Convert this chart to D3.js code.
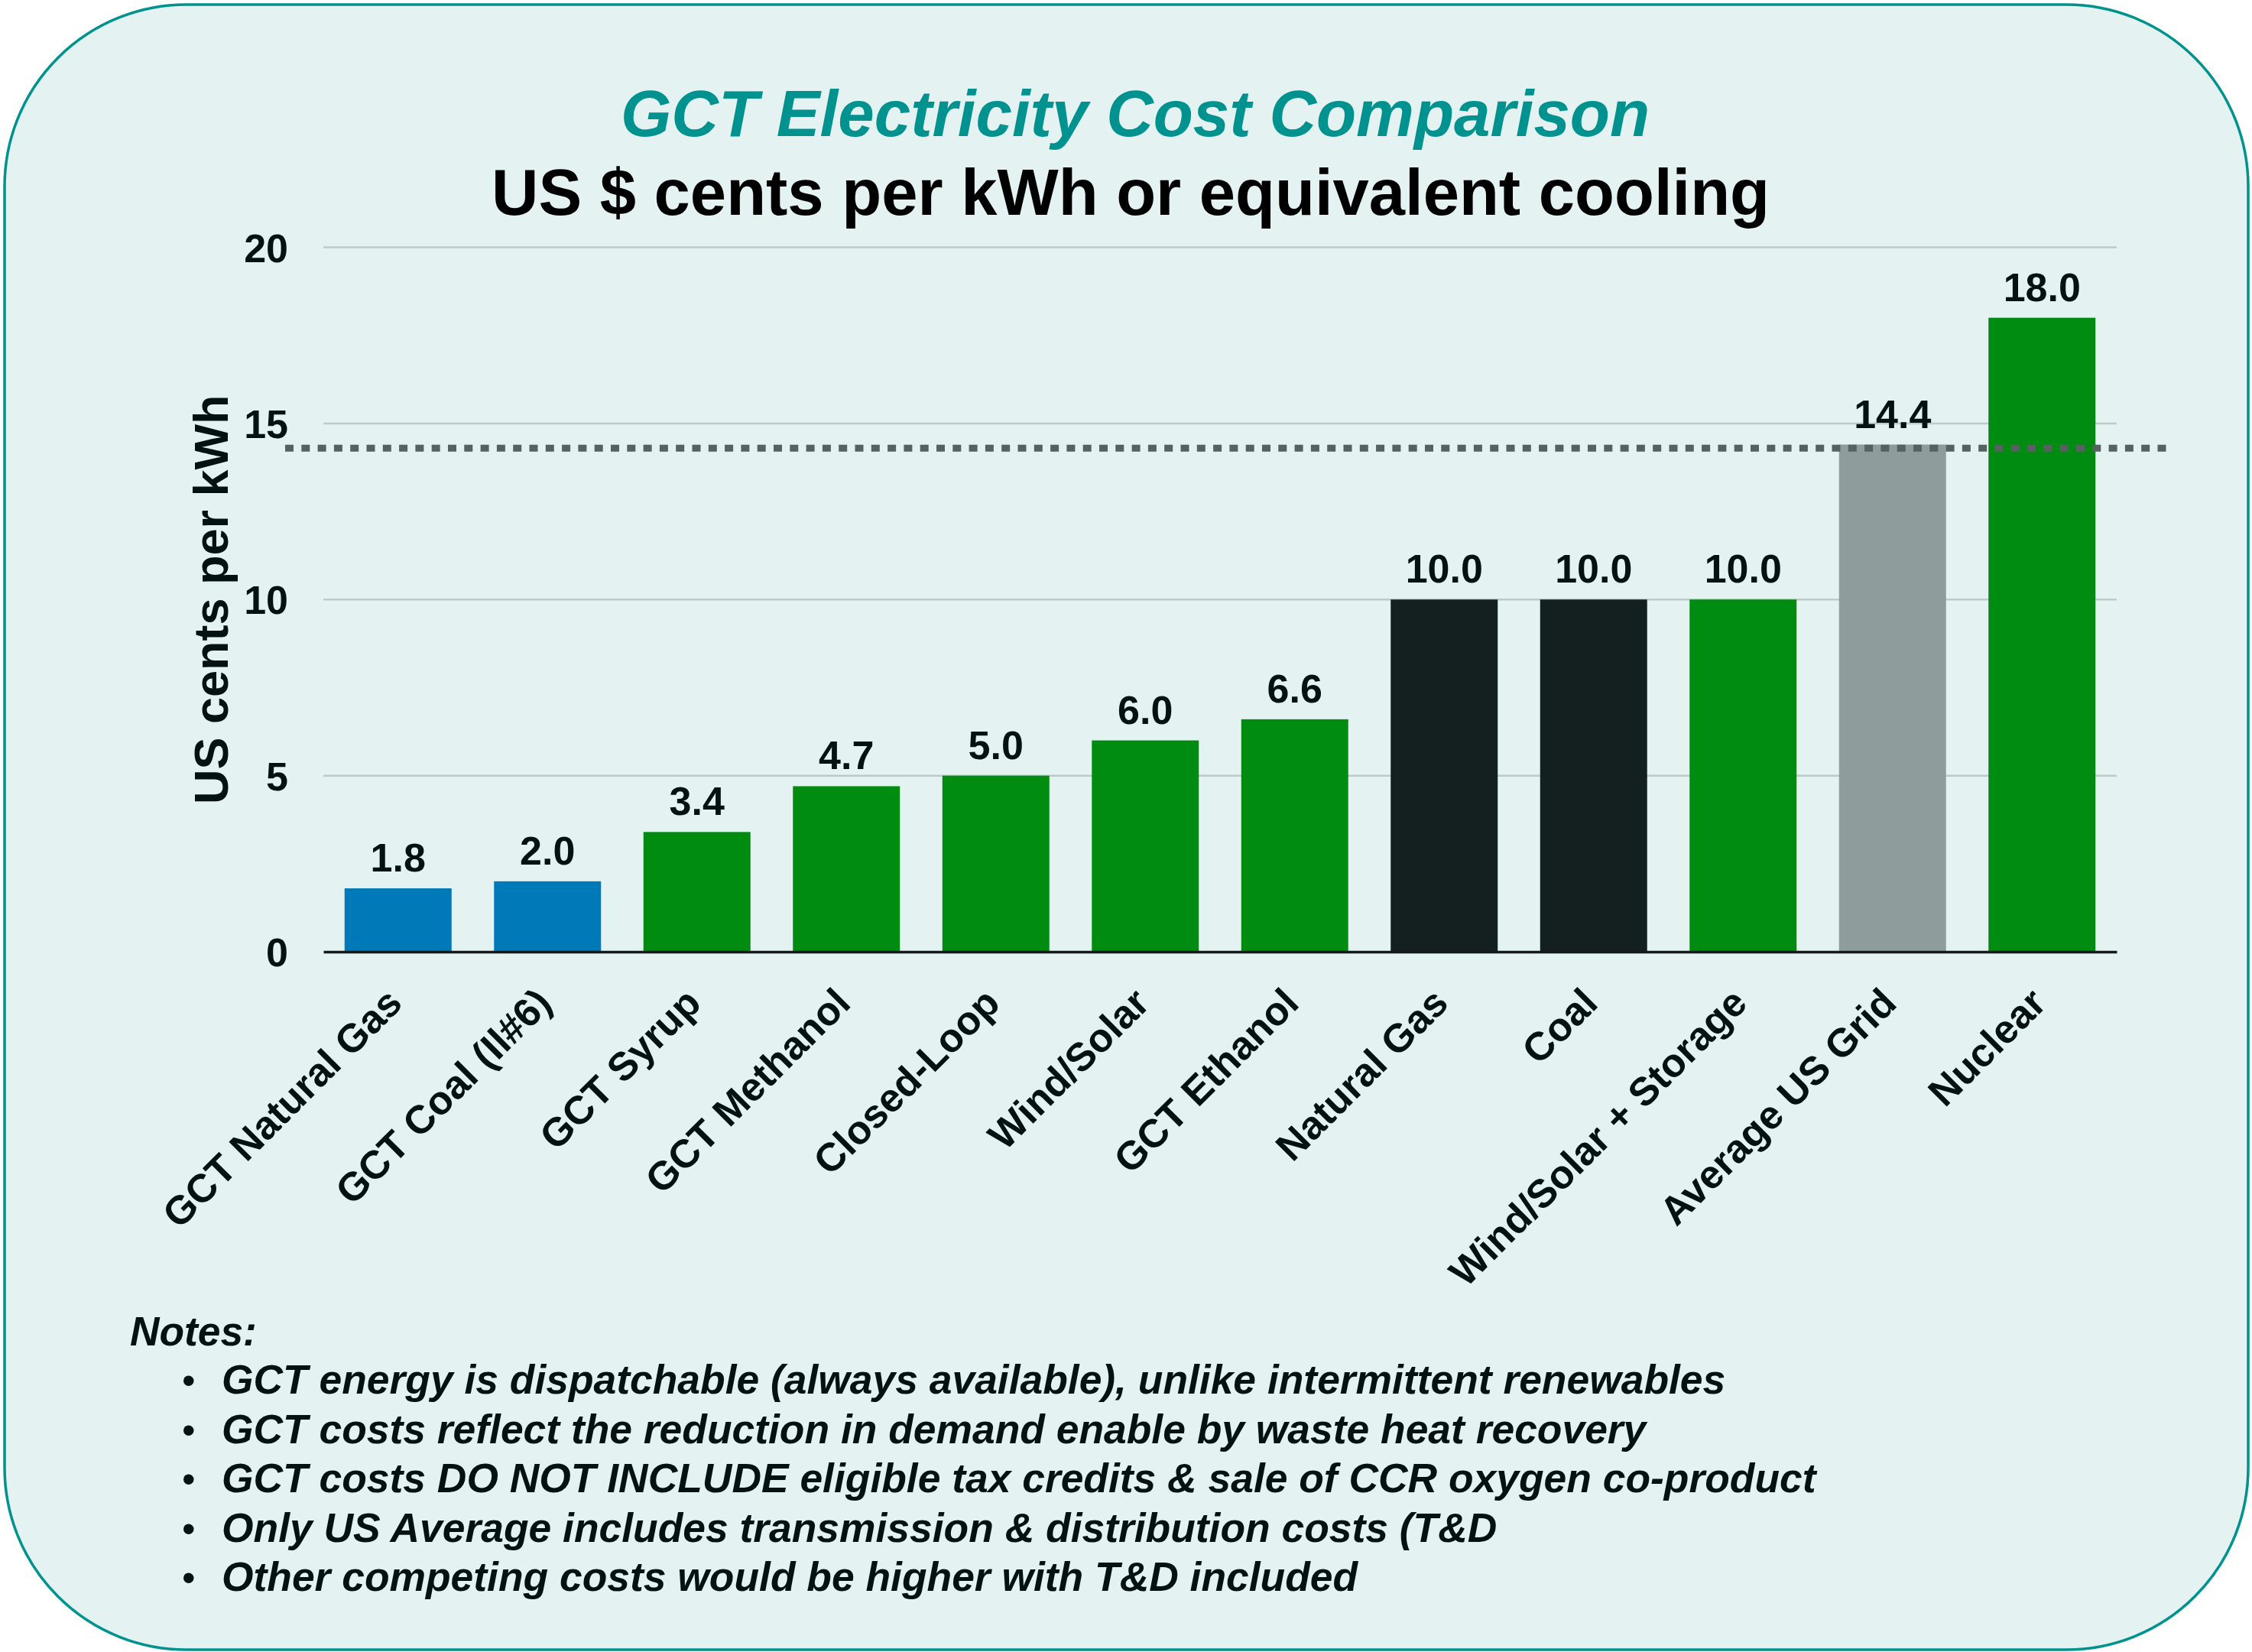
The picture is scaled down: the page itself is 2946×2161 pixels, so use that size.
<!DOCTYPE html>
<html>
<head>
<meta charset="utf-8">
<script src="https://cdn.jsdelivr.net/npm/d3@7"></script>
<style>
  html, body { margin: 0; padding: 0; background: #ffffff; }
  svg { display: block; }
  text { font-family: "Liberation Sans", Arial, Helvetica, sans-serif; }
</style>
</head>
<body>
<svg id="chart" width="2946" height="2161"></svg>
<script>
// ---- data ----
const categories = ["GCT Natural Gas", "GCT Coal (Il#6)", "GCT Syrup", "GCT Methanol", "Closed-Loop",
  "Wind/Solar", "GCT Ethanol", "Natural Gas", "Coal", "Wind/Solar + Storage", "Average US Grid", "Nuclear"];
const values = [1.8, 2.0, 3.4, 4.7, 5.0, 6.0, 6.6, 10.0, 10.0, 10.0, 14.4, 18.0];
const barGroups = ["gct", "gct", "green", "green", "green", "green", "green", "fossil", "fossil", "green", "grid", "green"];
const groupNames = ["gct", "green", "fossil", "grid"];
const groupColors = ["#0079b8", "#008c10", "#141f1f", "#8e9c9b"];
const yTicks = [0, 5, 10, 15, 20];
const referenceValue = [14.3];
const title = "GCT Electricity Cost Comparison";
const subtitle = "US $ cents per kWh or equivalent cooling";
const yAxisTitle = "US cents per kWh";
const notesTitle = "Notes:";
const notes = [
  "GCT energy is dispatchable (always available), unlike intermittent renewables",
  "GCT costs reflect the reduction in demand enable by waste heat recovery",
  "GCT costs DO NOT INCLUDE eligible tax credits & sale of CCR oxygen co-product",
  "Only US Average includes transmission & distribution costs (T&D",
  "Other competing costs would be higher with T&D included"
];

// ---- layout ----
const W = 2946, H = 2161;
const plot = { left: 423, right: 2769, top: 323.5, bottom: 1245 };
const textColor = "#061111";

const svg = d3.select("#chart");

// background panel
svg.append("rect")
  .attr("x", 6).attr("y", 6)
  .attr("width", 2935).attr("height", 2152)
  .attr("rx", 238).attr("ry", 238)
  .attr("fill", "#e4f3f2")
  .attr("stroke", "#00928f")
  .attr("stroke-width", 3.5);

// scales
const x = d3.scaleBand()
  .domain(categories)
  .range([plot.left, plot.right])
  .paddingInner(0.284)
  .paddingOuter(0.142);

const y = d3.scaleLinear()
  .domain([0, 20])
  .range([plot.bottom, plot.top]);

const color = d3.scaleOrdinal().domain(groupNames).range(groupColors);

// gridlines
svg.append("g")
  .selectAll("line")
  .data(yTicks.filter(d => d > 0))
  .join("line")
  .attr("x1", plot.left).attr("x2", plot.right)
  .attr("y1", d => y(d)).attr("y2", d => y(d))
  .attr("stroke", "#bccaca")
  .attr("stroke-width", 2.5);

// y axis
const yAxis = svg.append("g")
  .attr("transform", `translate(${plot.left},0)`)
  .call(d3.axisLeft(y).tickValues(yTicks).tickSize(0).tickPadding(46).tickFormat(d3.format("d")));
yAxis.select(".domain").remove();
yAxis.selectAll("text")
  .attr("font-size", 52)
  .attr("font-weight", "bold")
  .attr("fill", textColor)
  .attr("dy", "0.36em");

// bars
svg.append("g")
  .selectAll("rect")
  .data(values)
  .join("rect")
  .attr("x", (d, i) => x(categories[i]))
  .attr("y", d => y(d))
  .attr("width", x.bandwidth())
  .attr("height", d => y(0) - y(d))
  .attr("fill", (d, i) => color(barGroups[i]));

// reference dotted line
svg.append("g")
  .selectAll("line")
  .data(referenceValue)
  .join("line")
  .attr("x1", 373).attr("x2", 2840)
  .attr("y1", d => y(d)).attr("y2", d => y(d))
  .attr("stroke", "#566260")
  .attr("stroke-width", 9)
  .attr("stroke-dasharray", "11 10.3");

// x axis
const xAxis = svg.append("g")
  .attr("transform", `translate(0,${plot.bottom})`)
  .call(d3.axisBottom(x).tickSize(0));
xAxis.select(".domain")
  .attr("stroke", "#121a1a")
  .attr("stroke-width", 3.5);
xAxis.selectAll("text")
  .attr("font-size", 52)
  .attr("font-weight", "bold")
  .attr("fill", textColor)
  .attr("text-anchor", "end")
  .attr("x", 0).attr("y", 0).attr("dy", 0)
  .attr("transform", "translate(8,70) rotate(-45)");

// value labels
svg.append("g")
  .selectAll("text")
  .data(values)
  .join("text")
  .attr("x", (d, i) => x(categories[i]) + x.bandwidth() / 2)
  .attr("y", d => y(d) - 22)
  .attr("text-anchor", "middle")
  .attr("font-size", 52)
  .attr("font-weight", "bold")
  .attr("fill", textColor)
  .text(d => d3.format(".1f")(d));

// y axis title
svg.append("text")
  .attr("transform", `translate(298,${(plot.top + plot.bottom) / 2}) rotate(-90)`)
  .attr("text-anchor", "middle")
  .attr("font-size", 63)
  .attr("font-weight", "bold")
  .attr("fill", textColor)
  .text(yAxisTitle);

// titles
svg.append("text")
  .attr("x", 1485).attr("y", 178)
  .attr("text-anchor", "middle")
  .attr("font-size", 85.3)
  .attr("font-weight", "bold")
  .attr("font-style", "italic")
  .attr("fill", "#00928f")
  .text(title);

svg.append("text")
  .attr("x", 1479).attr("y", 281)
  .attr("text-anchor", "middle")
  .attr("font-size", 85)
  .attr("font-weight", "bold")
  .attr("fill", "#000000")
  .text(subtitle);

// notes
svg.append("text")
  .attr("x", 170).attr("y", 1760)
  .attr("font-size", 53.3)
  .attr("font-weight", "bold")
  .attr("font-style", "italic")
  .attr("fill", textColor)
  .text(notesTitle);

const noteG = svg.append("g");
noteG.selectAll("text.bullet")
  .data(notes)
  .join("text")
  .attr("class", "bullet")
  .attr("x", 238)
  .attr("y", (d, i) => 1823 + i * 64.5)
  .attr("font-size", 50)
  .attr("fill", textColor)
  .text("\u2022");
noteG.selectAll("text.note")
  .data(notes)
  .join("text")
  .attr("class", "note")
  .attr("x", 290)
  .attr("y", (d, i) => 1823 + i * 64.5)
  .attr("font-size", 53.4)
  .attr("font-weight", "bold")
  .attr("font-style", "italic")
  .attr("fill", textColor)
  .text(d => d);
</script>
</body>
</html>
